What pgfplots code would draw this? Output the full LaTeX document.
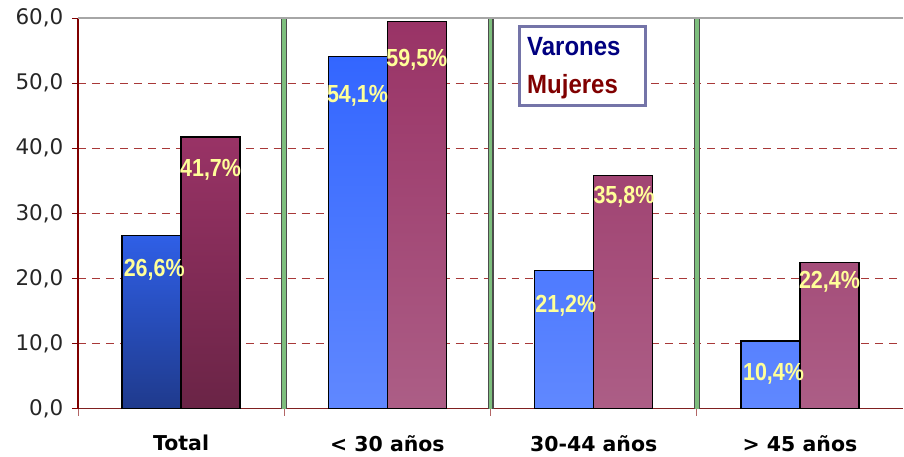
\documentclass[border=0pt]{standalone}
\usepackage{graphicx}
\usepackage{pgfplots}
\pgfplotsset{compat=1.18}
\usepackage{fontspec}
\setmainfont{DejaVu Sans}
\newfontfamily\lib{Liberation Sans}
\definecolor{bluetop}{HTML}{3366FF}
\definecolor{bluebot}{HTML}{6088FF}
\definecolor{tbluetop}{HTML}{2F5FE6}
\definecolor{tbluebot}{HTML}{1F3A8C}
\definecolor{martop}{HTML}{993366}
\definecolor{marbot}{HTML}{AC5E86}
\definecolor{tmarbot}{HTML}{6A2446}
\definecolor{lbl}{HTML}{FFFF99}
\definecolor{gridc}{HTML}{A83838}
\definecolor{axc}{HTML}{800000}
\definecolor{sepgreen}{HTML}{7DBE7D}
\definecolor{legc}{HTML}{7474A8}
\definecolor{navy}{HTML}{000080}
\definecolor{dred}{HTML}{800000}
\begin{document}
\begin{tikzpicture}
\begin{axis}[
  scale only axis,
  width=826pt, height=391pt,
  xmin=-0.5, xmax=3.5, ymin=0, ymax=60,
  axis x line*=bottom, axis y line*=left,
  axis line style={-},
  x axis line style={draw=axc!75!gray, line width=1.8pt},
  y axis line style={draw=axc, line width=1.2pt},
  ytick={0,10,...,60},
  yticklabel style={font=\fontsize{21.5}{25}\selectfont, text=black!85, xshift=-5pt},
  /pgf/number format/.cd, fixed, fixed zerofill, precision=1, use comma, assume math mode=true,
  /pgfplots/.cd,
  xtick={0,1,2,3},
  xticklabels={Total,{< 30 años},{30-44 años},{> 45 años}},
  xticklabel style={font=\bfseries\fontsize{20.5}{24}\selectfont, yshift=-17pt},
  major x tick style={draw=none},
  minor xtick={-0.5,0.5,1.5,2.5},
  minor x tick style={draw=axc!60, line width=0.8pt},
  minor tick length=7pt,
  tick align=outside,
  major tick length=6pt,
  y tick style={draw=axc, line width=0.8pt},
  ymajorgrids,
  major grid style={draw=gridc, line width=0.8pt, dash pattern=on 8pt off 6pt},
  extra x ticks={0.5,1.5,2.5},
  extra x tick labels={},
  extra x tick style={grid=major, major tick length=0pt,
     major grid style={draw=black!70, line width=6pt, solid}},
  legend image code/.code={},
  legend style={at={(axis description cs:0.533,0.982)}, anchor=north west,
     draw=legc, line width=3pt, fill=white,
     font=\lib\bfseries\fontsize{24}{28}\selectfont,
     inner xsep=6pt, inner ysep=9pt, row sep=13pt},
  legend cell align=left,
  clip=false,
]
% green separators inner fill
\addplot[draw=sepgreen, line width=3.8pt, forget plot] coordinates {(0.5,0) (0.5,60)};
\addplot[draw=sepgreen, line width=3.8pt, forget plot] coordinates {(1.5,0) (1.5,60)};
\addplot[draw=sepgreen, line width=3.8pt, forget plot] coordinates {(2.5,0) (2.5,60)};
% Total group bars
\addplot[ybar, bar width=59pt, bar shift=-29.5pt, draw=black, line width=1.3pt,
  top color=tbluetop, bottom color=tbluebot, forget plot] coordinates {(0,26.6)};
\addplot[ybar, bar width=59pt, bar shift=29.5pt, draw=black, line width=1.3pt,
  top color=martop, bottom color=tmarbot, forget plot] coordinates {(0,41.7)};
% other groups
\addplot[ybar, bar width=59pt, bar shift=-29.5pt, draw=black, line width=1.3pt,
  top color=bluetop, bottom color=bluebot] coordinates {(1,54.1) (2,21.2) (3,10.4)};
\addlegendentry{\scalebox{1}[1.1]{\makebox[110pt][l]{\textcolor{navy}{Varones}}}}
\addplot[ybar, bar width=59pt, bar shift=29.5pt, draw=black, line width=1.3pt,
  top color=martop, bottom color=marbot] coordinates {(1,59.5) (2,35.8) (3,22.4)};
\addlegendentry{\scalebox{1}[1.1]{\makebox[110pt][l]{\textcolor{dred}{Mujeres}}}}
% labels
\addplot[draw=none, mark=none, forget plot, nodes near coords={\scalebox{1}[1.15]{\pgfplotspointmeta}},
  point meta=explicit symbolic,
  every node near coord/.append style={anchor=center, text=lbl,
     font=\lib\bfseries\fontsize{21.5}{25}\selectfont}]
  coordinates {
   (-0.13,21.3) [26,6\%]
   (0.143,36.7) [41,7\%]
   (0.855,48.0) [54,1\%]
   (1.143,53.6) [59,5\%]
   (1.865,15.8) [21,2\%]
   (2.147,32.5) [35,8\%]
   (2.872,5.4) [10,4\%]
   (3.143,19.5) [22,4\%]
  };
\draw[draw=black!35, line width=1.5pt] (rel axis cs:0,1) -- (rel axis cs:1,1);
\coordinate (O) at (rel axis cs:0,0);
\coordinate (T) at (rel axis cs:1,1);
\end{axis}
\path ([shift={(-78pt,-48pt)}]O) rectangle ([shift={(0pt,18pt)}]T);
\end{tikzpicture}
\end{document}
